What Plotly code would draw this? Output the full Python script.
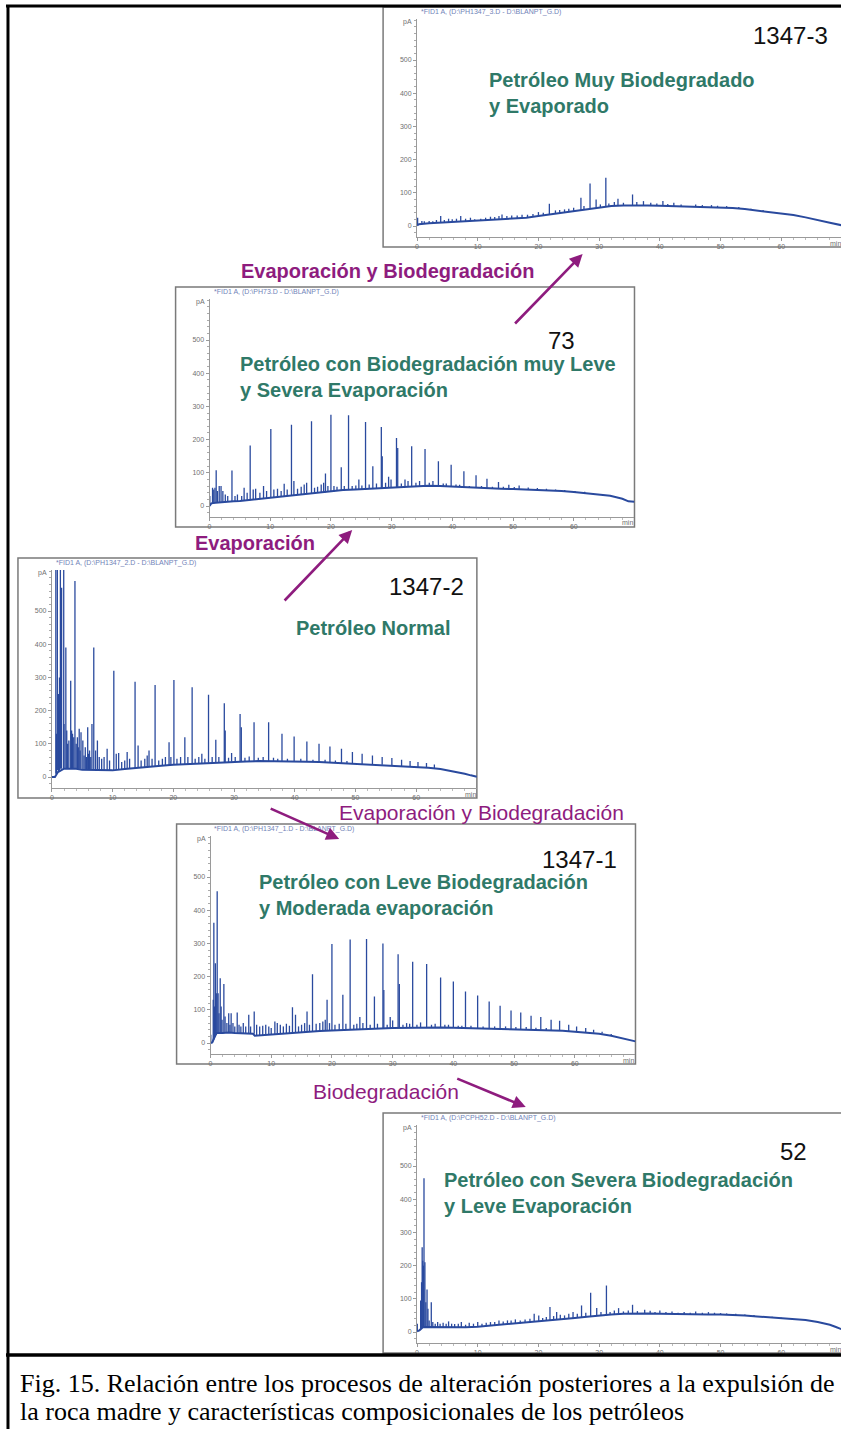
import plotly.graph_objects as go

# ---------------- DATA ----------------
X_TICKS = [0, 10, 20, 30, 40, 50, 60]
Y_TICKS = [0, 100, 200, 300, 400, 500]

# --- 1347-3 : Petróleo Muy Biodegradado y Evaporado
A_base_t = [0, 0.3, 2, 4, 6, 8, 10, 12, 14, 16, 18, 20, 22, 24, 26, 28, 30, 32, 34, 36, 38, 40, 42, 44, 46, 48, 50, 52, 54, 56, 58, 60, 62, 64, 66, 68, 70]
A_base_v = [2, 5, 8, 10, 12, 14, 16, 18, 20, 22, 25, 30, 35, 40, 44, 50, 56, 60, 62, 63, 62, 61, 60, 58, 57, 57, 56, 54, 51, 47, 42, 38, 33, 26, 19, 10, 2]
A_peak_t = [0.1, 0.8, 1.2, 2.0, 2.6, 3.2, 3.9, 4.5, 5.2, 5.8, 6.5, 7.2, 8.0, 8.8, 9.5, 10.5, 11.3, 12.1, 12.8, 13.5, 14.0, 14.8, 15.6, 16.5, 17.3, 18.2, 19.1, 20.0, 20.8, 21.8, 22.8, 23.5, 24.3, 25.0, 25.8, 27.0, 27.5, 28.5, 29.5, 30.2, 31.1, 31.6, 32.5, 33.1, 34.0, 35.5, 36.2, 37.3, 38.5, 39.5, 40.5, 41.3, 42.3, 43.5, 45.9, 47.0, 48.5, 49.5, 51.0, 53.0, 55.0, 57.0, 59.0, 61.8]
A_peak_lo = [2, 5, 6, 8, 8, 9, 10, 10, 11, 12, 12, 13, 14, 15, 15, 16, 17, 18, 19, 19, 20, 21, 22, 22, 23, 25, 27, 30, 32, 35, 37, 38, 40, 42, 43, 47, 48, 52, 55, 57, 58, 59, 60, 61, 62, 62, 63, 63, 62, 62, 61, 61, 60, 59, 57, 57, 57, 57, 55, 53, 49, 45, 39, 33]
A_peak_hi = [25, 15, 14, 15, 14, 18, 30, 18, 22, 20, 22, 30, 22, 25, 20, 22, 25, 28, 27, 30, 35, 30, 32, 32, 34, 34, 36, 42, 40, 67, 47, 48, 50, 52, 55, 85, 60, 128, 80, 65, 145, 68, 72, 82, 70, 95, 72, 75, 70, 68, 75, 66, 70, 65, 65, 63, 63, 61, 60, 57, 52, 48, 42, 36]

# --- 73 : Petróleo con Biodegradación muy Leve y Severa Evaporación
B_base_t = [0, 0.3, 1, 2, 3, 4, 5, 6, 8, 10, 12, 14, 16, 18, 20, 22, 24, 26, 28, 30, 32, 34, 36, 38, 40, 42, 44, 46, 48, 50, 52, 54, 56, 58, 60, 62, 64, 66, 68, 69, 70]
B_base_v = [0, 8, 10, 12, 13, 14, 15, 17, 21, 25, 29, 33, 37, 41, 45, 48, 50, 52, 54, 56, 58, 60, 61, 60, 58, 56, 54, 53, 52, 51, 50, 49, 47, 45, 42, 39, 36, 31, 22, 14, 13]
B_peak_t = [0.05, 0.5, 0.7, 0.9, 1.1, 1.3, 1.6, 1.9, 2.2, 2.6, 3.0, 3.7, 4.2, 4.6, 5.3, 5.7, 6.2, 6.7, 7.2, 7.6, 8.3, 8.9, 9.4, 10.1, 10.6, 11.2, 11.8, 12.3, 12.8, 13.5, 13.9, 14.5, 15.1, 15.6, 16.0, 16.8, 17.3, 17.8, 18.4, 18.8, 19.1, 19.5, 20.0, 20.5, 21.0, 21.7, 22.2, 22.9, 23.5, 24.1, 24.6, 25.1, 25.7, 26.3, 26.9, 27.5, 28.3, 28.45, 29.0, 29.5, 29.9, 30.8, 31.0, 31.6, 32.2, 32.7, 33.3, 34.0, 34.6, 35.5, 36.2, 36.8, 37.7, 38.5, 39.0, 39.8, 40.6, 41.2, 41.9, 42.8, 43.9, 44.8, 45.7, 46.6, 47.6, 48.4, 49.3, 50.2, 51.0, 52.5, 54.0, 55.5, 57.0, 58.5, 60.2, 61.8]
B_peak_lo = [0, 8, 9, 10, 10, 10, 11, 11, 12, 12, 13, 13, 14, 14, 15, 16, 16, 17, 18, 19, 21, 22, 23, 25, 26, 27, 28, 29, 30, 31, 32, 33, 34, 35, 36, 37, 38, 39, 40, 41, 41, 42, 43, 44, 45, 46, 47, 48, 48, 49, 49, 50, 51, 51, 52, 53, 54, 54, 55, 55, 56, 57, 57, 58, 58, 59, 59, 60, 60, 61, 61, 61, 60, 60, 59, 58, 57, 57, 56, 55, 54, 54, 53, 53, 52, 52, 51, 51, 50, 50, 49, 48, 46, 45, 42, 39]
B_peak_hi = [30, 55, 50, 55, 108, 45, 60, 60, 45, 35, 30, 107, 30, 35, 30, 55, 40, 182, 50, 52, 40, 60, 45, 232, 50, 52, 45, 67, 50, 245, 75, 52, 58, 65, 70, 255, 55, 58, 65, 70, 98, 60, 275, 60, 58, 117, 60, 273, 60, 62, 80, 62, 253, 65, 120, 68, 238, 150, 70, 88, 80, 205, 175, 68, 80, 75, 180, 70, 75, 172, 70, 75, 135, 68, 68, 124, 65, 64, 105, 60, 93, 60, 82, 58, 72, 58, 64, 57, 62, 56, 54, 52, 50, 48, 45, 43]

# --- 1347-2 : Petróleo Normal
C_base_t = [0, 0.5, 1, 2, 3, 4, 5, 6, 7, 8, 9, 10, 12, 14, 16, 18, 20, 22, 24, 26, 28, 30, 32, 34, 36, 38, 40, 42, 44, 46, 48, 50, 52, 54, 56, 58, 60, 62, 64, 66, 68, 69, 70]
C_base_v = [0, 0, 15, 25, 25, 25, 22, 22, 20, 20, 20, 20, 24, 28, 31, 34, 37, 39, 41, 43, 45, 46, 47, 48, 48, 47, 47, 46, 45, 43, 41, 40, 38, 37, 35, 33, 31, 28, 24, 18, 10, 5, 1]
C_peak_t = [0.65, 0.75, 0.9, 1.1, 1.25, 1.4, 1.6, 1.95, 2.0, 2.3, 2.45, 2.6, 2.8, 3.1, 3.25, 3.4, 3.6, 3.8, 4.0, 4.2, 4.35, 4.5, 4.65, 4.8, 5.1, 5.3, 5.5, 5.7, 5.9, 6.05, 6.2, 6.4, 6.6, 6.9, 7.2, 7.5, 7.8, 8.2, 8.6, 9.1, 9.5, 10.2, 10.6, 11.0, 11.5, 12.0, 12.4, 12.8, 13.7, 14.2, 14.7, 15.3, 15.7, 16.0, 16.5, 17.0, 17.6, 18.2, 18.7, 19.3, 19.6, 20.1, 20.6, 21.2, 21.9, 22.4, 23.1, 23.6, 24.2, 24.7, 25.2, 25.8, 26.4, 27.0, 27.5, 28.4, 28.55, 29.1, 29.6, 30.2, 31.0, 31.2, 31.8, 32.5, 33.3, 34.0, 34.8, 35.7, 36.5, 37.2, 37.9, 38.8, 39.9, 41.0, 42.0, 43.0, 44.0, 45.0, 45.8, 46.7, 47.7, 48.6, 49.5, 51.1, 52.8, 54.4, 56.0, 57.6, 59.0, 60.3, 61.7, 63.0]
C_peak_lo = [10, 10, 20, 15, 20, 25, 25, 25, 25, 25, 25, 25, 25, 25, 25, 25, 25, 25, 25, 25, 25, 25, 25, 25, 22, 22, 22, 22, 22, 22, 22, 22, 22, 22, 20, 20, 20, 20, 20, 20, 20, 20, 21, 22, 22, 23, 24, 25, 26, 27, 28, 29, 30, 31, 31, 32, 33, 34, 35, 36, 36, 37, 38, 38, 39, 39, 40, 40, 41, 41, 42, 43, 43, 44, 44, 45, 45, 45, 46, 46, 46, 46, 47, 47, 47, 48, 48, 48, 48, 47, 47, 47, 47, 46, 46, 45, 45, 44, 43, 42, 41, 41, 40, 39, 38, 37, 35, 33, 32, 30, 29, 27]
C_peak_hi = [700, 130, 700, 250, 300, 700, 570, 700, 160, 390, 140, 100, 110, 290, 140, 130, 120, 590, 100, 120, 90, 145, 80, 135, 110, 65, 90, 60, 150, 70, 80, 60, 160, 390, 80, 110, 60, 55, 60, 85, 50, 320, 70, 72, 45, 50, 75, 55, 287, 95, 50, 55, 65, 80, 55, 277, 50, 55, 60, 105, 60, 292, 55, 60, 120, 60, 270, 55, 60, 70, 55, 248, 60, 112, 60, 222, 140, 58, 72, 60, 190, 150, 58, 62, 165, 58, 60, 165, 58, 55, 130, 55, 122, 55, 107, 52, 100, 52, 92, 50, 85, 48, 75, 70, 65, 60, 57, 52, 48, 45, 42, 38]

# --- 1347-1 : Petróleo con Leve Biodegradación y Moderada evaporación
D_base_t = [0, 0.3, 0.6, 1, 2, 3, 4, 5, 6, 7, 7.3, 8, 10, 12, 14, 16, 18, 20, 22, 24, 26, 28, 30, 32, 34, 36, 38, 40, 42, 44, 46, 48, 50, 52, 54, 56, 58, 60, 62, 64, 66, 68, 69, 70]
D_base_v = [0, 2, 15, 30, 30, 32, 30, 30, 28, 28, 22, 23, 26, 29, 31, 33, 36, 38, 40, 41, 42, 44, 45, 46, 47, 47, 47, 46, 45, 44, 44, 43, 42, 41, 40, 39, 37, 34, 32, 28, 22, 14, 8, 5]
D_peak_t = [0.05, 0.45, 0.55, 0.65, 0.8, 0.95, 1.1, 1.25, 1.4, 1.6, 1.75, 1.9, 2.2, 2.4, 2.7, 3.0, 3.2, 3.4, 3.7, 4.0, 4.4, 4.7, 5.0, 5.4, 5.8, 6.3, 6.6, 7.2, 7.6, 8.1, 8.6, 9.1, 9.6, 10.0, 10.6, 11.0, 11.5, 12.0, 12.5, 13.0, 13.5, 14.0, 14.5, 15.0, 15.5, 15.9, 16.3, 16.8, 17.4, 18.0, 18.5, 18.9, 19.2, 19.6, 20.0, 20.5, 21.2, 21.8, 22.3, 23.0, 23.6, 24.1, 24.6, 25.1, 25.7, 26.3, 27.0, 27.5, 28.4, 28.55, 29.1, 29.6, 30.0, 30.9, 31.1, 31.7, 32.3, 32.8, 33.3, 34.0, 34.6, 35.6, 36.4, 37.0, 37.9, 38.6, 39.2, 40.0, 40.8, 41.4, 42.0, 42.9, 44.0, 44.9, 45.9, 46.8, 47.7, 48.6, 49.5, 50.3, 51.1, 52.0, 52.8, 53.6, 54.4, 55.3, 56.1, 57.5, 59.0, 60.3, 61.8, 63.1, 64.5, 66.0]
D_peak_lo = [0, 5, 10, 15, 20, 25, 30, 30, 30, 30, 30, 30, 30, 30, 30, 30, 30, 30, 30, 30, 30, 30, 30, 30, 30, 28, 28, 28, 22, 22, 23, 24, 25, 26, 27, 27, 28, 29, 29, 30, 31, 31, 32, 33, 33, 34, 34, 35, 35, 36, 37, 37, 38, 38, 38, 39, 39, 40, 40, 40, 41, 41, 41, 42, 42, 42, 43, 43, 44, 44, 44, 45, 45, 45, 45, 46, 46, 46, 46, 47, 47, 47, 47, 47, 47, 47, 46, 46, 46, 45, 45, 45, 44, 44, 44, 43, 43, 43, 42, 42, 42, 41, 41, 40, 40, 39, 39, 38, 36, 34, 33, 31, 29, 23]
D_peak_hi = [25, 130, 362, 110, 240, 150, 457, 150, 90, 195, 110, 70, 178, 80, 60, 90, 55, 90, 60, 50, 92, 55, 50, 60, 50, 85, 50, 95, 55, 50, 52, 55, 50, 45, 65, 60, 55, 50, 58, 52, 108, 85, 50, 55, 60, 95, 55, 207, 58, 60, 65, 70, 130, 60, 298, 55, 58, 145, 58, 312, 55, 58, 78, 60, 313, 55, 140, 58, 300, 160, 55, 78, 68, 267, 178, 55, 60, 58, 245, 55, 62, 238, 55, 58, 197, 55, 55, 185, 52, 52, 155, 52, 143, 50, 125, 50, 112, 50, 98, 48, 92, 48, 82, 46, 78, 45, 70, 67, 55, 50, 45, 40, 34, 27]

# --- 52 : Petróleo con Severa Biodegradación y Leve Evaporación
E_base_t = [0, 0.4, 1, 2, 3, 4, 6, 8, 10, 12, 14, 16, 18, 20, 22, 24, 26, 28, 30, 32, 34, 36, 38, 40, 42, 44, 46, 48, 50, 52, 54, 56, 58, 60, 62, 64, 66, 68, 69, 70]
E_base_v = [2, 5, 15, 15, 13, 13, 13, 14, 16, 19, 22, 25, 28, 31, 35, 38, 42, 46, 50, 53, 55, 56, 56, 55, 54, 53, 53, 53, 53, 52, 50, 47, 44, 41, 39, 36, 30, 22, 15, 8]
E_peak_t = [0.05, 0.6, 0.75, 0.85, 0.95, 1.05, 1.15, 1.3, 1.45, 1.65, 1.8, 2.0, 2.35, 2.6, 3.0, 3.4, 3.8, 4.3, 4.8, 5.2, 5.7, 6.2, 6.8, 7.3, 8.0, 8.6, 9.3, 10.0, 10.7, 11.4, 12.1, 12.8, 13.5, 14.2, 14.9, 15.5, 16.2, 17.0, 17.8, 18.6, 19.3, 20.05, 20.7, 21.3, 21.9, 22.5, 23.0, 23.6, 24.3, 25.0, 25.7, 26.4, 27.1, 27.8, 28.6, 29.6, 30.3, 31.2, 31.8, 32.5, 33.2, 34.0, 34.8, 35.5, 36.3, 37.5, 38.4, 39.2, 40.0, 41.0, 42.0, 43.0, 44.0, 45.0, 45.9, 47.0, 48.0, 49.0, 50.0, 51.0, 52.5, 54.0, 55.5, 57.0, 58.5, 60.0, 61.8]
E_peak_lo = [2, 10, 12, 14, 15, 15, 15, 15, 15, 15, 15, 15, 15, 14, 13, 13, 13, 13, 13, 13, 13, 13, 13, 14, 14, 14, 15, 16, 17, 18, 19, 20, 21, 22, 23, 24, 25, 26, 27, 29, 30, 31, 33, 34, 35, 36, 37, 38, 39, 40, 41, 43, 44, 45, 47, 49, 50, 51, 52, 53, 53, 54, 55, 55, 56, 56, 56, 55, 55, 54, 54, 54, 53, 53, 53, 53, 53, 53, 53, 52, 51, 50, 48, 46, 44, 41, 39]
E_peak_hi = [25, 95, 150, 255, 215, 200, 463, 210, 90, 128, 70, 35, 90, 30, 25, 30, 25, 28, 25, 32, 25, 24, 25, 30, 22, 28, 25, 30, 25, 28, 30, 30, 35, 32, 35, 35, 38, 35, 38, 40, 55, 50, 42, 45, 75, 48, 60, 52, 50, 55, 60, 55, 80, 58, 118, 72, 60, 140, 60, 65, 72, 62, 65, 82, 63, 67, 64, 60, 65, 60, 62, 58, 60, 58, 62, 58, 60, 58, 57, 56, 55, 53, 51, 48, 46, 43, 42]

PANEL_IDS = ["1347-3", "73", "1347-2", "1347-1", "52"]
PANEL_FILES = ["*FID1 A, (D:\\PH1347_3.D - D:\\BLANPT_G.D)",
               "*FID1 A, (D:\\PH73.D - D:\\BLANPT_G.D)",
               "*FID1 A, (D:\\PH1347_2.D - D:\\BLANPT_G.D)",
               "*FID1 A, (D:\\PH1347_1.D - D:\\BLANPT_G.D)",
               "*FID1 A, (D:\\PCPH52.D - D:\\BLANPT_G.D)"]
PANEL_TEXT = ["Petróleo Muy Biodegradado<br>y Evaporado",
              "Petróleo con Biodegradación muy Leve<br>y Severa Evaporación",
              "Petróleo Normal",
              "Petróleo con Leve Biodegradación<br>y Moderada evaporación",
              "Petróleo con Severa Biodegradación<br>y Leve Evaporación"]
CAPTION = ["Fig. 15. Relación entre los procesos de alteración posteriores a la expulsión de",
           "la roca madre y características composicionales de los petróleos"]

SERIES = [(A_base_t, A_base_v, A_peak_t, A_peak_lo, A_peak_hi),
          (B_base_t, B_base_v, B_peak_t, B_peak_lo, B_peak_hi),
          (C_base_t, C_base_v, C_peak_t, C_peak_lo, C_peak_hi),
          (D_base_t, D_base_v, D_peak_t, D_peak_lo, D_peak_hi),
          (E_base_t, E_base_v, E_peak_t, E_peak_lo, E_peak_hi)]

# ---------------- LAYOUT ----------------
W, H = 841, 1429
BOX = [(382, 7), (174, 287), (16, 558), (175, 824), (382, 1113)]
ID_POS = [(790, 36), (561, 341), (426, 586), (579, 860), (793, 1151)]
DESC_POS = [(487, 93), (238, 377), (294, 628), (257, 895), (442, 1193)]

TRACE_COL = "#2A4A9E"
GREEN = "#2F7968"
PURPLE = "#8E1C7E"
AXC = "#9a9a9a"


def px(x):
    return x / W


def py(y):
    return 1 - y / H


fig = go.Figure()
layout = dict(width=W, height=H, margin=dict(l=0, r=0, t=0, b=0),
              paper_bgcolor="white", plot_bgcolor="white", showlegend=False)
shapes, annos = [], []

for k, ((bl, bt), ser) in enumerate(zip(BOX, SERIES)):
    i = k + 1
    bt_, bv_, pt_, plo_, phi_ = ser
    x0p, x1p = bl + 34, bl + 460
    xmax = 70.0
    if x1p > W:
        xmax = 70.0 * (W - x0p) / (x1p - x0p)
        x1p = W
    y_top, y_bot = bt + 12, bt + 230
    xs, ys = [], []
    for a, b, c in zip(pt_, plo_, phi_):
        xs += [a, a, None]
        ys += [b, c, None]
    xa, ya = f"x{i}", f"y{i}"
    fig.add_trace(go.Scatter(x=bt_, y=bv_, mode="lines", xaxis=xa, yaxis=ya,
                             line=dict(color=TRACE_COL, width=2.0), hoverinfo="skip"))
    fig.add_trace(go.Scatter(x=xs, y=ys, mode="lines", xaxis=xa, yaxis=ya,
                             line=dict(color=TRACE_COL, width=1.3), hoverinfo="skip"))
    tickfont = dict(family="Arial", size=7, color="#707070")
    layout[f"xaxis{i}"] = dict(domain=[px(x0p), px(x1p)], range=[0, xmax], anchor=ya,
                               showgrid=False, zeroline=False, showline=True, linecolor=AXC,
                               linewidth=1, ticks="outside", ticklen=3, tickcolor=AXC,
                               tickmode="array", tickvals=X_TICKS,
                               ticktext=[str(v) for v in X_TICKS], tickfont=tickfont,
                               minor=dict(tickmode="array", tickvals=[v for v in range(0, 70, 2)],
                                          ticks="outside", ticklen=1.5, tickcolor="#bbbbbb"),
                               fixedrange=True)
    layout[f"yaxis{i}"] = dict(domain=[py(y_bot), py(y_top)], range=[-33.1, 623.5], anchor=xa,
                               showgrid=False, zeroline=False, showline=True, linecolor=AXC,
                               linewidth=1, ticks="outside", ticklen=3, tickcolor=AXC,
                               tickmode="array", tickvals=Y_TICKS,
                               ticktext=[str(v) for v in Y_TICKS], tickfont=tickfont,
                               minor=dict(tickmode="array", tickvals=[v for v in range(-20, 621, 20)],
                                          ticks="outside", ticklen=2, tickcolor="#aaaaaa"),
                               fixedrange=True)
    shapes.append(dict(type="rect", xref="paper", yref="paper", x0=px(bl), x1=px(bl + 460),
                       y0=py(bt + 240), y1=py(bt), line=dict(color="#7a7a7a", width=1.5),
                       layer="below"))
    annos.append(dict(xref="paper", yref="paper", x=px(bl + 36), y=py(bt + 5), text=PANEL_FILES[k],
                      showarrow=False, xanchor="left", yanchor="middle",
                      font=dict(family="Arial", size=7, color="#7183b8")))
    annos.append(dict(xref="paper", yref="paper", x=px(bl + 31), y=py(bt + 15), text="pA",
                      showarrow=False, xanchor="right", yanchor="middle",
                      font=dict(family="Arial", size=7, color="#707070")))
    annos.append(dict(xref="paper", yref="paper", x=px(min(bl + 461, W + 3)), y=py(bt + 236), text="min",
                      showarrow=False, xanchor="right", yanchor="middle",
                      font=dict(family="Arial", size=7, color="#707070")))
    annos.append(dict(xref="paper", yref="paper", x=px(ID_POS[k][0]), y=py(ID_POS[k][1]),
                      text=PANEL_IDS[k], showarrow=False, xanchor="center", yanchor="middle",
                      borderpad=0, font=dict(family="Arial", size=24, color="#111111")))
    annos.append(dict(xref="paper", yref="paper", x=px(DESC_POS[k][0]), y=py(DESC_POS[k][1]),
                      text="<b>" + PANEL_TEXT[k] + "</b>", showarrow=False, xanchor="left",
                      yanchor="middle", align="left", borderpad=0,
                      font=dict(family="Arial", size=20, color=GREEN)))

PROC = [("<b>Evaporación y Biodegradación</b>", 386, 271, 20),
        ("<b>Evaporación</b>", 254, 543, 20),
        ("Evaporación y Biodegradación", 481, 812, 21),
        ("Biodegradación", 385, 1091, 21)]
for t, x, y, s in PROC:
    annos.append(dict(xref="paper", yref="paper", x=px(x), y=py(y), text=t, showarrow=False,
                      xanchor="center", yanchor="middle",
                      font=dict(family="Arial", size=s, color=PURPLE)))

ARROWS = [(582, 254, 513, 325), (351, 530, 282, 602), (338, 839, 268, 808), (525, 1107, 455, 1078)]
for hx, hy, tx, ty in ARROWS:
    annos.append(dict(xref="paper", yref="paper", x=px(hx), y=py(hy), ax=tx - hx, ay=ty - hy,
                      axref="pixel", ayref="pixel", text="", showarrow=True, arrowhead=2,
                      arrowsize=1.0, arrowwidth=2.6, arrowcolor=PURPLE, standoff=0))

for (xa0, ya0, xa1, ya1, w) in [(4, 6, W, 6, 3), (6, 5, 6, H, 3), (4, 1355, W, 1355, 3.5)]:
    shapes.append(dict(type="line", xref="paper", yref="paper", x0=px(xa0), y0=py(ya0),
                       x1=px(xa1), y1=py(ya1), line=dict(color="black", width=w)))

for j, line in enumerate(CAPTION):
    annos.append(dict(xref="paper", yref="paper", x=px(16), y=py(1383 + 28 * j), text=line,
                      showarrow=False, xanchor="left", yanchor="middle",
                      font=dict(family="Liberation Serif, Times New Roman, serif", size=26, color="black")))

layout["shapes"] = shapes
layout["annotations"] = annos
fig.update_layout(**layout)
fig.write_html("out.html")
